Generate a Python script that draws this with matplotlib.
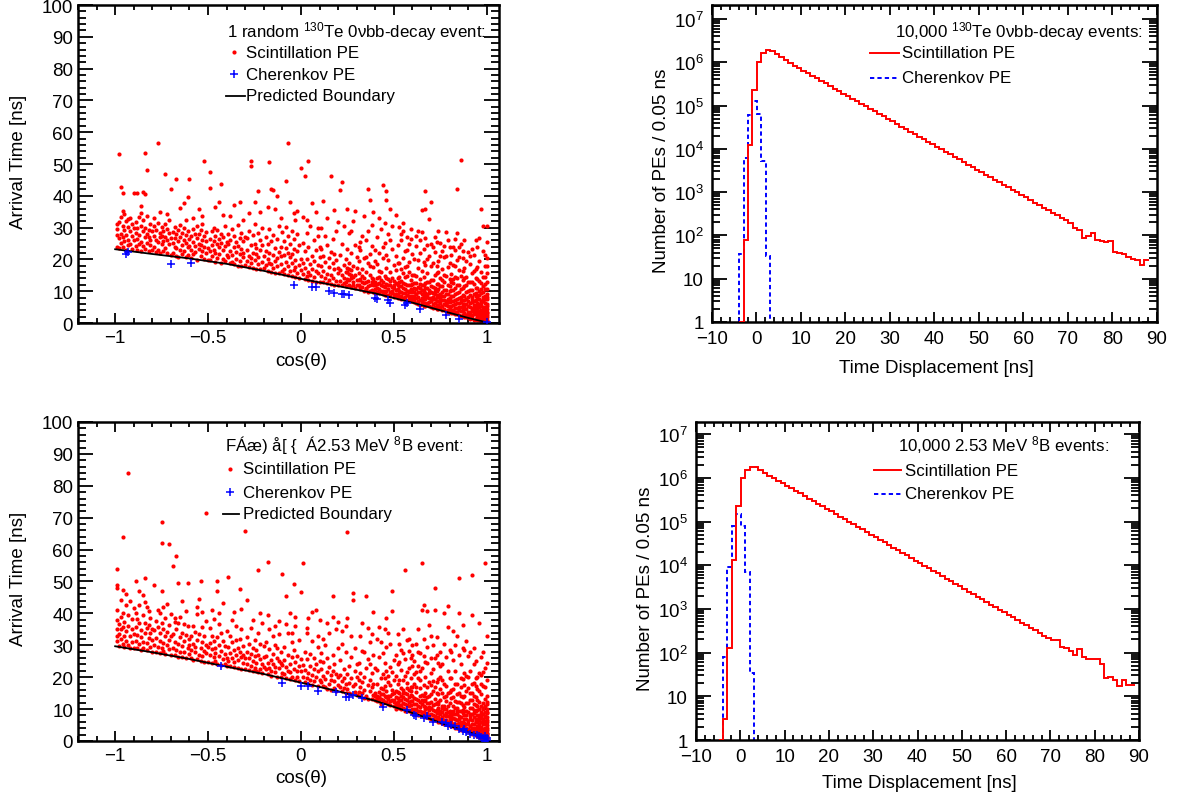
import numpy as np
import matplotlib
matplotlib.use("Agg")
import matplotlib.pyplot as plt
from matplotlib.ticker import MultipleLocator, LogLocator, NullFormatter, FuncFormatter

plt.rcParams['font.family'] = ['Liberation Sans', 'DejaVu Sans']
plt.rcParams['mathtext.fontset'] = 'custom'
plt.rcParams['mathtext.rm'] = 'Liberation Sans'
plt.rcParams['mathtext.it'] = 'Liberation Sans:italic'

# -----------------------------
# Data: single-event hit maps, "cos(theta)*100:time[ns]"
# -----------------------------
te_scint_pts = """
-99:29.5 -99:24.0 -98:31.8 -98:26.7 -98:23.6 -97:33.4 -97:28.1 -97:25.2 -96:30.6 -96:27.0 -96:23.8 -95:34.2
-95:29.3 -95:25.9 -94:32.0 -94:27.6 -94:22.9 -93:30.1 -93:26.2 -93:24.5 -92:33.0 -92:28.8 -92:25.0 -91:31.2
-91:27.3 -91:23.4 -90:29.9 -90:26.1 -99:27.8 -96:35.1 -93:32.6 -98:53.0 -97:42.7 -96:41.0 -99:31.0
-89:28.4 -89:24.3 -89:31.7 -88:26.5 -88:22.9 -88:29.9 -87:33.2 -87:27.7 -87:24.8 -86:30.5 -86:25.6 -86:22.6
-85:28.9 -85:32.4 -85:24.1 -84:26.9 -84:30.0 -84:23.2 -83:28.1 -83:33.6 -83:25.3 -82:29.4 -82:22.5 -82:27.0
-81:31.0 -81:24.6 -81:26.2 -80:29.0 -80:23.0 -86:34.5 -84:40.5 -84:53.5 -83:48.0 -85:41.2 -88:41.0 -90:41.0 -86:36.8
-79:27.5 -79:24.0 -79:30.4 -78:26.1 -78:22.3 -78:29.2 -77:31.6 -77:25.4 -77:23.0 -76:28.3 -76:26.9 -76:21.9
-75:30.2 -75:24.7 -75:27.4 -74:22.5 -74:28.9 -74:25.8 -73:31.1 -73:23.6 -73:27.0 -72:26.0 -72:29.7 -72:22.0
-71:24.9 -71:28.2 -71:32.4 -70:21.5 -70:26.6 -77:56.7 -73:47.0 -70:42.0 -76:35.0 -72:34.2 -79:33.0
-69:25.3 -69:28.7 -69:22.1 -68:30.1 -68:24.0 -68:26.8 -67:21.2 -67:27.9 -67:23.5 -66:29.4 -66:25.9 -66:20.8
-65:23.0 -65:27.2 -65:30.8 -64:24.6 -64:21.6 -64:28.3 -63:26.0 -63:22.7 -63:30.0 -62:25.1 -62:20.9 -62:27.6
-61:23.9 -61:29.0 -61:21.4 -60:26.4 -60:24.2 -67:45.3 -60:45.3 -63:37.8 -61:39.6 -65:36.2 -62:32.5
-59:23.0 -59:27.3 -59:20.5 -58:25.6 -58:29.6 -58:21.8 -57:24.1 -57:28.0 -57:22.4 -56:26.7 -56:19.9 -56:30.4
-55:23.3 -55:25.0 -55:27.9 -54:21.0 -54:24.6 -54:29.1 -53:22.6 -53:26.2 -53:31.0 -52:20.2 -52:24.0 -52:27.5
-51:22.0 -51:25.7 -51:28.6 -50:19.8 -50:23.6 -52:51.0 -55:35.8 -58:33.0 -53:33.8
-49:22.5 -49:26.3 -49:19.7 -48:24.4 -48:28.8 -48:21.0 -47:23.1 -47:30.0 -47:25.8 -46:19.2 -46:27.4 -46:22.0
-45:24.9 -45:20.4 -45:29.3 -44:26.5 -44:21.7 -44:23.8 -43:19.0 -43:25.2 -43:28.1 -42:22.8 -42:20.0 -42:26.9
-41:24.1 -41:19.5 -41:30.6 -40:21.3 -40:25.5 -49:47.6 -49:42.4 -43:43.8 -46:36.5 -42:34.0 -44:38.0
-39:20.6 -39:24.8 -39:28.0 -38:18.9 -38:22.7 -38:26.1 -37:21.5 -37:29.6 -37:19.3 -36:23.9 -36:27.3 -36:18.5
-35:25.4 -35:20.1 -35:22.2 -34:18.0 -34:24.3 -34:30.8 -33:26.7 -33:19.6 -33:21.8 -32:23.2 -32:28.4 -32:17.9
-31:20.7 -31:25.9 -31:22.0 -30:18.3 -30:27.1 -36:37.0 -33:38.0 -38:33.5 -31:32.5
-29:19.4 -29:23.0 -29:26.8 -28:17.6 -28:21.2 -28:29.0 -27:24.5 -27:18.8 -27:20.3 -26:27.6 -26:22.1 -26:17.2
-25:25.0 -25:19.9 -25:31.2 -24:21.6 -24:17.0 -24:23.7 -23:28.2 -23:18.4 -23:20.8 -22:26.0 -22:16.9 -22:22.9
-21:19.1 -21:24.4 -21:30.0 -20:17.4 -20:21.0 -27:50.8 -27:49.5 -23:41.5 -22:35.0 -28:34.6 -25:38.2
-19:18.2 -19:22.6 -19:27.0 -18:16.5 -18:20.1 -18:24.8 -17:19.0 -17:29.5 -17:22.0 -16:16.0 -16:25.7 -16:18.7
-15:21.4 -15:27.8 -15:17.3 -14:23.5 -14:19.6 -14:15.8 -13:26.3 -13:20.5 -13:17.8 -12:22.2 -12:30.4 -12:15.6
-11:18.4 -11:24.0 -11:21.0 -10:16.3 -10:28.6 -17:50.6 -16:42.0 -15:41.8 -13:40.0 -11:33.0 -18:36.5 -14:36.0
-9:17.0 -9:21.5 -9:25.8 -9:15.4 -8:19.3 -8:23.7 -8:30.2 -7:15.0 -7:18.0 -7:27.4 -7:22.0 -6:16.2
-6:20.6 -6:24.9 -5:14.8 -5:18.9 -5:29.0 -5:21.8 -4:16.8 -4:23.2 -4:26.5 -3:14.5 -3:19.7 -3:17.5
-2:22.6 -2:15.7 -2:28.0 -1:18.3 -1:14.2 -1:24.4 0:16.6 0:20.2 -7:56.7 -8:44.8 -6:38.0 -4:34.6 -3:32.5 0:48.8 -2:35.2
1:15.3 1:19.0 1:25.2 2:13.8 2:17.4 2:22.5 3:14.9 3:28.3 3:20.0 4:16.1 4:13.5 4:23.8
5:18.6 5:15.0 5:30.5 6:21.2 6:13.2 6:17.0 7:26.0 7:14.4 7:19.6 8:16.5 8:22.9 8:13.0
9:18.2 9:27.3 9:15.6 10:20.8 10:12.9 10:24.0 2:46.2 4:50.9 3:32.4 6:37.8 8:35.0 9:29.9 1:33.4
11:14.7 11:18.0 11:23.4 12:12.9 12:16.2 12:21.0 13:14.0 13:27.5 13:19.3 14:15.5 14:12.5 14:24.6
15:17.7 15:13.6 15:20.5 16:22.3 16:15.0 16:12.2 17:18.8 17:26.4 17:14.1 18:16.9 18:21.6 18:12.0
19:13.3 19:19.8 19:29.0 20:15.8 20:11.9 20:17.2 12:38.3 16:46.2 18:35.5 14:33.0 20:31.8 11:30.0
21:13.2 21:16.8 21:21.4 22:11.8 22:15.1 22:25.0 23:12.6 23:18.3 23:14.2 24:20.0 24:11.5 24:16.0
25:13.8 25:23.2 25:17.4 26:12.0 26:15.5 26:19.0 26:28.4 27:11.2 27:14.0 27:21.9 27:16.6 28:13.0
28:18.0 28:12.1 29:15.0 29:24.5 29:11.0 30:17.3 30:13.6 30:20.6 24:12.8 22:44.3 21:41.8 25:36.0
28:32.0 27:29.0 23:30.5 29:35.2 26:13.5 27:15.2 28:14.6 25:16.0 26:17.0
31:12.0 31:15.7 31:19.5 32:10.6 32:13.9 32:22.8 33:11.4 33:17.0 33:14.8 34:10.2 34:20.3 34:12.6
35:16.1 35:26.0 35:11.0 36:13.2 36:18.8 36:9.9 37:15.0 37:21.7 37:12.0 38:10.4 38:14.2 38:24.3
39:17.5 39:9.6 39:11.8 40:13.0 40:19.4 40:9.5 33:27.4 36:29.0 38:30.8 34:33.8 37:38.7 36:42.2
39:35.0 32:25.6 40:23.0 35:20.8 31:24.0 37:18.0
41:11.0 41:14.3 41:18.6 42:9.5 42:12.7 42:22.0 43:10.1 43:15.9 43:13.4 44:9.0 44:20.4 44:11.6
45:14.7 45:25.3 45:9.8 46:12.3 46:17.2 46:8.7 47:10.6 47:19.9 47:13.8 48:8.5 48:11.9 48:16.0
49:9.3 49:14.0 49:23.4 50:8.1 50:10.9 50:18.1 41:27.0 43:29.7 45:31.5 47:28.0 49:30.5 42:33.0
44:43.5 46:41.4 46:38.8 48:36.0 44:24.0 46:21.5 48:26.2 50:13.2 42:16.5 44:13.0 47:8.9 49:11.4
51:9.0 51:12.5 51:16.8 51:21.0 52:7.8 52:10.6 52:14.1 52:24.5 53:8.4 53:11.7 53:18.9 54:7.5
54:13.3 54:9.9 54:28.0 55:15.6 55:8.0 55:11.0 55:20.3 56:7.2 56:12.4 56:17.5 56:9.4 57:10.2
57:14.7 57:23.0 57:7.0 58:8.6 58:12.0 58:19.2 58:16.0 59:6.8 59:10.8 59:13.6 59:26.5 60:7.9
60:9.7 60:15.0 60:21.8 53:30.3 55:29.0 57:27.2 59:29.6 54:26.0 56:22.5 58:24.8 52:19.0 55:31.5
51:34.0 53:12.8 56:14.5 58:10.1 60:12.3 54:17.0 57:18.0
61:7.5 61:10.9 61:15.2 61:20.0 62:6.2 62:9.0 62:12.7 62:24.1 63:6.8 63:11.3 63:17.3 63:8.1
64:5.8 64:13.9 64:9.6 64:22.0 65:7.0 65:11.9 65:16.5 65:6.0 66:8.6 66:14.4 66:19.1 66:10.2
67:5.5 67:7.7 67:12.6 67:26.8 68:9.2 68:6.4 68:15.8 68:11.1 69:5.2 69:8.0 69:13.0 69:21.2
70:6.9 70:9.9 70:17.9 70:5.0 62:27.5 64:26.0 66:23.4 68:24.6 70:25.0 63:29.0 65:28.5 67:41.5
70:38.2 65:35.5 67:35.8 69:32.8 61:12.5 62:14.8 63:19.8 64:11.0 65:9.0 66:6.3 67:18.2 68:20.0
69:10.5 70:13.4 61:8.5 66:12.0 68:8.2
71:6.0 71:9.4 71:13.5 71:18.8 72:4.9 72:7.6 72:11.0 72:22.3 73:5.5 73:10.1 73:15.6 73:8.2
74:4.5 74:12.2 74:6.8 74:19.5 75:5.1 75:9.0 75:14.3 75:25.2 76:7.3 76:11.7 76:4.2 76:16.9
77:6.0 77:8.5 77:20.6 77:12.9 78:3.9 78:10.3 78:14.8 78:7.0 79:5.3 79:9.1 79:17.6 79:3.6
80:6.5 80:11.6 80:8.0 80:23.9 71:24.0 73:25.5 75:21.0 77:24.2 79:26.0 72:27.0 74:29.0 76:22.6
78:21.0 80:19.0 71:11.2 72:15.0 73:12.4 74:8.9 75:7.2 76:9.6 77:15.0 78:5.8 79:12.0 80:13.9
71:7.7 73:17.8 75:11.5 77:10.5 79:7.5 76:13.6 78:28.7 74:16.0 72:9.2 80:4.1
81:4.0 81:6.8 81:10.3 81:15.5 81:21.4 82:3.1 82:5.6 82:8.4 82:12.6 82:18.2 83:4.6 83:7.3
83:11.1 83:2.8 83:23.0 84:3.5 84:9.5 84:14.0 84:6.2 84:19.8 85:2.4 85:5.0 85:7.9 85:12.0
85:16.6 86:3.9 86:10.6 86:6.6 86:25.0 86:2.2 87:4.8 87:8.8 87:13.4 87:20.5 88:2.0 88:6.0
88:11.5 88:3.3 88:17.4 89:4.4 89:7.4 89:9.9 89:14.6 90:1.8 90:5.3 90:12.8 90:22.4 90:8.1
81:12.8 82:10.5 83:14.5 84:11.8 85:9.6 86:14.8 87:6.0 88:8.6 89:12.1 90:3.5 81:8.5 82:13.9
83:9.2 84:4.8 85:20.6 86:8.3 87:11.0 88:14.0 89:2.5 90:10.0 84:42.0 86:51.4 83:26.5 85:24.0
87:22.6 89:19.5 82:23.8 88:26.0 84:28.3 87:16.4 83:17.9
91:2.4 91:5.1 91:8.7 91:13.0 91:18.6 92:1.5 92:3.9 92:6.5 92:10.4 92:15.8 93:2.9 93:5.8
93:9.0 93:12.2 93:21.5 94:1.2 94:4.2 94:7.1 94:11.0 94:16.9 95:2.0 95:3.4 95:6.2 95:8.5
95:13.8 95:24.0 96:0.9 96:2.7 96:4.9 96:7.7 96:10.1 96:19.4 97:1.6 97:3.1 97:5.5 97:9.4
97:12.7 97:15.9 98:0.7 98:2.2 98:4.0 98:6.9 98:8.2 98:11.5 98:22.7 99:0.5 99:1.8 99:3.6
99:5.0 99:7.4 99:10.7 99:14.4 99:17.8 100:0.3 100:1.1 100:2.6 100:4.4 100:6.0 100:9.1 100:12.9
100:20.3 100:25.5 91:10.5 92:12.8 93:3.8 94:9.4 95:11.0 96:13.3 97:7.0 98:14.6 99:12.3 100:7.6
92:8.2 94:14.2 96:6.0 98:9.7 100:15.8 97:2.2 99:6.2 95:17.5 93:16.2 91:21.0 99:21.5 97:35.7
98:30.5 96:26.8 94:26.0 92:23.4 100:18.0 99:2.8 98:1.3 100:3.5 97:0.8 96:3.8 100:30.6
30:11.8 31:13.4 32:11.2 33:12.9 34:14.0 35:10.8 35:13.0 36:11.5 37:10.2 38:12.8 39:13.9 40:10.8 40:11.9
41:9.9 41:12.2 42:10.8 42:14.5 43:11.8 44:10.2 45:11.3 45:8.9 46:10.0 46:14.1 47:12.0 48:9.6 48:13.3
49:10.2 50:9.0 50:12.0 51:10.4 51:8.5 52:12.0 52:9.2 53:10.0 53:14.4 54:8.6 54:11.5 55:9.3 55:12.7
56:8.2 56:10.8 57:8.8 57:12.1 58:7.4 58:9.8 59:8.4 59:11.9 60:10.5 60:6.8
61:6.6 61:9.6 62:7.8 62:10.6 63:9.8 63:5.9 64:7.3 64:12.2 65:8.0 65:10.5 66:5.4 66:7.5 67:9.5
67:11.0 68:5.6 68:13.0 69:6.7 69:9.4 70:8.0 70:11.5
71:4.6 71:8.3 72:6.2 72:10.0 73:4.3 73:6.9 74:5.6 74:10.6 75:6.3 75:8.1 76:5.2 76:8.5 77:4.4
77:7.2 78:6.1 78:9.1 79:4.2 79:6.7 80:5.0 80:10.0
81:3.2 81:5.2 82:4.1 82:6.9 83:3.6 83:5.9 84:2.9 84:7.6 85:4.1 85:6.3 86:5.0 86:7.4 87:2.6
87:3.9 88:4.9 88:7.3 89:1.9 89:5.9 90:2.7 90:6.8
91:1.4 91:3.6 91:6.4 92:2.5 92:4.8 92:7.4 93:1.1 93:4.6 93:7.0 94:2.7 94:5.4 94:8.6 95:1.0
95:4.4 95:7.4 96:1.8 96:3.3 96:5.6 96:8.9 97:0.5 97:4.0 97:6.3 97:10.8 98:1.6 98:3.3 98:5.0
98:7.6 99:0.8 99:2.4 99:4.3 99:8.5 100:0.6 100:1.8 100:3.1 100:5.2 100:8.2 100:10.6
"""

te_cher_pts = """
-94:21.8 -93:22.2 -70:18.4 -59:18.8 -4:12.1 6:11.3 8:11.3 15:10.2 18:9.4 22:9.0 23:9.2 26:8.9
40:7.8 41:7.4 47:7.1 48:6.4 56:5.8 57:6.2 64:4.5 78:2.6 85:1.4 100:0.3
"""

te_bound_x = [-1.0, -0.8, -0.6, -0.4, -0.2, 0.0, 0.2, 0.4, 0.6, 0.7, 0.8, 0.9, 1.0]
te_bound_y = [23.2, 21.7, 20.3, 18.6, 16.4, 13.9, 11.6, 9.3, 6.4, 4.8, 3.2, 1.6, 0.2]

b8_scint_pts = """
-99:35.0 -99:31.2 -99:41.0 -99:37.8 -98:33.4 -98:29.9 -98:36.6 -97:44.3 -97:32.0 -97:38.9 -96:30.5 -96:35.7
-96:40.2 -95:33.0 -95:29.4 -95:37.2 -94:31.5 -94:42.5 -94:34.6 -93:36.0 -93:30.0 -93:39.5 -92:32.8 -92:29.2
-92:44.0 -91:35.2 -91:38.3 -91:31.0 -90:33.6 -90:29.0 -90:41.7 -99:33.0 -97:35.0
-93:83.9 -96:63.9 -99:53.9 -99:49.0 -99:48.0 -96:47.4 -94:46.0
-89:31.3 -89:35.8 -89:40.0 -88:29.0 -88:33.2 -88:38.1 -87:30.4 -87:36.9 -87:42.6 -86:28.5 -86:32.5 -86:34.8
-85:39.4 -85:31.0 -85:29.3 -84:37.0 -84:33.9 -84:43.5 -83:28.4 -83:35.5 -83:30.7 -82:32.2 -82:40.8 -82:36.3
-81:29.6 -81:34.0 -81:38.5 -80:28.0 -80:31.8 -80:35.1 -89:50.1 -84:51.1 -85:45.8 -87:47.0 -83:42.0
-79:30.2 -79:34.7 -79:48.8 -78:28.0 -78:32.4 -78:37.6 -77:29.5 -77:35.8 -77:41.0 -76:27.6 -76:31.3 -76:33.8
-75:29.0 -75:37.0 -75:46.9 -74:30.8 -74:28.2 -74:35.0 -73:32.9 -73:38.7 -73:27.3 -72:30.0 -72:34.3 -72:43.0
-71:28.8 -71:31.7 -71:36.4 -70:27.0 -70:33.0 -70:39.8 -75:68.7 -75:62.1 -71:61.6 -76:40.0 -74:42.0
-69:29.2 -69:33.5 -69:54.8 -68:27.1 -68:31.0 -68:37.4 -67:28.6 -67:35.2 -67:58.1 -66:26.4 -66:30.3 -66:49.5
-65:32.6 -65:27.8 -65:39.0 -64:29.9 -64:34.0 -64:26.2 -63:31.4 -63:36.8 -63:28.0 -62:26.0 -62:33.1 -62:40.6
-61:29.0 -61:35.9 -61:49.5 -60:27.3 -60:31.9 -60:30.0 -68:38.5 -66:37.0 -64:44.0
-59:28.5 -59:32.8 -59:26.0 -58:30.4 -58:36.0 -58:25.4 -57:27.9 -57:34.2 -57:29.6 -56:25.6 -56:31.7 -56:39.8
-55:27.0 -55:33.5 -55:44.5 -54:29.0 -54:25.0 -54:50.3 -53:31.0 -53:35.7 -53:26.6 -52:28.3 -52:33.0 -52:24.9
-51:30.2 -51:37.5 -51:27.5 -50:24.7 -50:29.4 -51:71.5 -56:42.0 -53:40.5
-49:27.0 -49:30.8 -49:35.4 -48:24.5 -48:28.9 -48:33.0 -47:26.3 -47:31.5 -47:38.2 -46:25.0 -46:29.2 -46:27.7
-45:32.5 -45:24.2 -45:50.1 -45:46.9 -44:26.8 -44:30.0 -44:36.6 -43:23.9 -43:28.1 -43:33.8 -42:25.7 -42:31.2
-42:43.4 -41:27.4 -41:24.0 -41:29.8 -40:26.0 -40:34.5 -40:23.6 -48:41.0 -44:40.0
-39:25.2 -39:29.4 -39:51.3 -38:23.6 -38:27.5 -38:33.0 -37:26.0 -37:30.9 -37:38.0 -36:23.2 -36:28.4 -36:24.8
-35:31.6 -35:26.9 -35:36.0 -34:23.0 -34:29.0 -34:25.5 -33:27.8 -33:47.6 -33:32.1 -32:22.6 -32:26.4 -32:35.0
-31:24.3 -31:29.9 -31:27.0 -30:22.5 -30:25.9 -30:65.8 -29:44.3 -36:40.5 -32:41.5
-29:24.2 -29:28.0 -29:32.6 -28:22.4 -28:26.1 -28:30.4 -27:23.6 -27:35.5 -27:27.4 -26:21.9 -26:25.0 -26:29.2
-25:23.0 -25:31.8 -25:26.8 -24:22.0 -24:28.6 -24:24.4 -23:33.7 -23:21.5 -23:27.1 -22:25.6 -22:30.3 -22:22.7
-21:24.0 -21:36.9 -21:21.2 -20:26.4 -20:23.3 -20:29.7 -23:53.7 -26:38.0 -22:40.0
-19:22.6 -19:26.8 -19:31.0 -18:21.0 -18:24.3 -18:56.1 -17:23.0 -17:28.7 -17:35.0 -16:20.5 -16:25.5 -16:22.0
-15:27.2 -15:33.0 -15:24.0 -14:21.6 -14:30.2 -14:23.3 -13:26.0 -13:20.2 -13:29.0 -12:22.8 -12:25.1 -12:37.5
-11:20.0 -11:24.6 -11:27.9 -10:21.4 -10:23.9 -10:52.4 -18:39.6 -14:36.0 -12:33.4
-9:21.0 -9:25.3 -9:29.5 -8:19.8 -8:23.1 -8:45.3 -7:22.0 -7:27.0 -7:33.8 -6:19.4 -6:24.0 -6:21.5
-5:26.2 -5:30.9 -5:20.2 -4:22.7 -4:28.4 -4:49.2 -3:19.0 -3:24.9 -3:36.2 -2:21.8 -2:26.7 -2:20.1
-1:23.4 -1:18.8 -1:31.6 0:22.0 0:46.6 0:25.7 -6:40.0 -3:39.0 -8:36.6 -5:34.0
1:20.0 1:23.8 1:55.8 2:18.5 2:22.1 2:28.0 3:19.6 3:25.6 3:34.0 4:17.9 4:21.2 4:38.6
5:23.5 5:27.3 5:19.0 6:20.6 6:31.2 6:17.6 7:22.6 7:26.0 7:18.8 8:24.2 8:20.0 8:41.0
9:17.3 9:21.9 9:29.4 10:19.2 10:25.0 10:37.8 3:35.5 6:40.3 9:33.0
11:18.6 11:22.5 11:27.6 12:17.2 12:20.4 12:24.8 13:16.8 13:30.1 13:19.5 14:21.7 14:16.3 14:25.9
15:18.0 15:23.3 15:33.7 16:16.0 16:20.8 16:19.0 17:22.0 17:27.0 17:45.5 18:16.5 18:18.8 18:24.1
19:21.0 19:35.0 19:15.8 20:17.6 20:20.2 20:29.0 14:37.0 17:39.0 20:37.3 12:32.0
21:17.0 21:20.6 21:25.4 22:15.6 22:18.9 22:30.3 23:16.7 23:22.7 23:19.8 24:15.1 24:17.9 24:27.8
25:21.0 25:16.2 25:65.5 26:18.3 26:23.5 26:15.0 27:19.6 27:26.4 27:14.8 28:17.1 28:46.4 28:44.3
29:21.8 29:15.4 29:18.0 30:14.3 30:24.0 30:20.0 22:34.6 24:36.0 27:33.0 29:29.0 25:38.7
31:15.5 31:19.2 31:24.6 32:14.0 32:17.0 32:21.4 33:15.0 33:28.2 33:18.5 34:13.6 34:20.0 34:16.1
35:22.8 35:14.2 35:45.5 36:17.6 36:13.3 36:25.7 37:19.0 37:15.6 37:30.9 38:13.1 38:21.2 38:16.8
39:14.5 39:18.0 39:26.9 40:12.8 40:23.0 40:15.2 33:37.0 36:35.4 39:40.5 32:33.0 38:33.5 34:28.0 37:24.0
41:14.0 41:17.8 41:22.3 42:12.5 42:15.4 42:26.2 43:13.2 43:19.6 43:16.7 44:11.9 44:21.0 44:14.6
45:17.1 45:24.5 45:12.2 46:15.8 46:13.7 46:29.5 47:11.5 47:18.6 47:20.4 48:14.0 48:11.2 48:23.3
49:16.0 49:12.8 49:46.9 49:40.6 50:11.0 50:19.0 50:15.0 41:32.0 43:31.0 45:35.0 47:33.8 44:27.5
48:30.4 42:35.8 46:38.7 50:25.5 43:11.6 45:19.9 47:14.2 49:21.5 41:12.6 44:16.4 46:22.0 48:17.5 50:13.0
51:12.0 51:15.6 51:20.3 51:27.0 52:10.6 52:13.4 52:17.9 52:24.0 53:11.3 53:14.9 53:30.5 54:10.0
54:16.6 54:12.7 54:22.1 55:13.8 55:19.0 55:10.4 55:35.0 56:11.7 56:15.0 56:25.8 56:53.5 57:9.7
57:13.0 57:18.2 57:21.5 58:10.9 58:16.0 58:12.2 58:28.3 59:9.3 59:14.3 59:19.8 59:11.4 60:8.9
60:12.6 60:17.0 60:23.6 52:33.5 55:27.6 57:31.8 59:26.0 53:19.2 54:28.6 56:20.5 58:22.9 60:30.0
51:9.9 53:24.8 55:16.0 57:14.6 59:17.0 56:9.4 58:32.0 60:27.0
61:10.0 61:13.5 61:18.0 61:25.2 62:8.7 62:11.6 62:15.4 62:21.7 63:9.4 63:13.0 63:19.6 63:28.0
64:8.2 64:10.7 64:16.5 64:12.3 65:9.0 65:14.4 65:22.8 65:41.0 66:7.8 66:11.0 66:17.7 66:26.5
67:8.6 67:12.8 67:15.0 67:20.2 68:7.4 68:10.2 68:13.9 68:24.3 69:8.0 69:9.6 69:18.5 69:11.9
70:7.0 70:14.8 70:21.3 70:10.5 62:30.5 64:27.6 66:32.0 68:29.4 70:33.0 63:35.2 65:55.8 66:42.7
68:40.6 69:36.4 61:21.0 62:17.0 63:23.5 64:19.0 65:11.7 66:14.0 67:24.9 68:16.8 69:14.0 70:17.6
61:8.9 64:22.0 67:10.0 70:26.0
71:8.0 71:11.4 71:15.8 71:22.5 72:6.6 72:9.5 72:13.3 72:48.0 72:41.2 73:7.3 73:12.0 73:18.4
73:26.9 74:6.1 74:8.8 74:14.6 74:10.5 75:7.0 75:12.7 75:20.0 75:16.2 76:5.6 76:9.2 76:24.1
76:11.0 77:6.5 77:13.9 77:40.1 77:8.1 78:5.2 78:10.0 78:17.3 78:12.4 79:6.0 79:7.7 79:21.8
79:14.9 80:4.9 80:9.4 80:11.8 80:28.5 71:30.0 73:32.6 75:28.0 77:30.4 79:35.6 74:24.6 76:19.0
78:26.2 80:19.9 79:42.4 71:18.8 72:17.0 73:9.8 74:19.5 75:9.4 76:15.0 77:18.0 78:7.8 79:11.0
80:15.4 72:26.0 74:12.3 76:7.4 78:14.2 80:7.0 77:10.9 75:23.6 73:15.2
81:5.8 81:9.0 81:13.4 81:19.6 82:4.6 82:7.2 82:11.0 82:16.2 82:25.4 83:5.2 83:8.4 83:12.6
83:22.0 84:4.1 84:6.5 84:10.2 84:14.7 84:18.0 85:3.8 85:7.8 85:9.5 85:51.1 85:40.1 86:4.9
86:12.0 86:16.9 86:6.0 87:3.4 87:8.9 87:13.7 87:36.4 88:4.3 88:5.6 88:10.8 88:21.2 89:3.1
89:7.0 89:11.9 89:15.8 90:3.0 90:6.3 90:9.2 90:26.7 81:28.0 83:30.0 85:27.0 87:29.3 89:31.5
84:33.0 86:24.0 88:28.4 90:20.0 82:34.6 81:7.5 82:13.8 83:17.8 84:8.5 85:12.3 86:9.3 87:6.1
88:14.0 89:9.4 90:12.0 81:16.0 83:10.4 85:15.0 87:19.5 89:5.2 82:9.3 84:12.1 86:14.2 88:8.0
90:16.6 83:6.8 85:5.6 87:11.2 89:20.4 86:19.8 88:17.5
91:3.6 91:6.9 91:10.4 91:15.2 91:22.0 92:2.8 92:5.3 92:8.5 92:12.7 92:52.1 92:39.6 93:4.2
93:7.6 93:11.5 93:18.3 93:29.0 94:2.4 94:5.9 94:9.3 94:13.8 94:25.2 95:3.2 95:4.8 95:8.0
95:10.9 95:16.4 96:1.9 96:3.9 96:6.7 96:9.9 96:12.3 96:37.0 97:1.5 97:4.5 97:7.3 97:11.0
97:14.8 97:20.8 98:1.2 98:3.0 98:5.4 98:8.6 98:12.0 98:17.1 99:0.9 99:2.2 99:4.0 99:6.2
99:9.0 99:13.1 99:55.8 100:0.8 100:1.7 100:3.3 100:5.0 100:7.4 100:10.1 100:14.0 100:32.8 91:28.0
93:24.0 95:20.0 97:26.3 99:23.0 92:18.0 94:17.3 96:15.8 98:21.5 100:19.0 91:12.8 92:10.2 93:14.1
94:7.0 95:13.0 96:5.2 97:9.0 98:10.3 99:11.0 100:8.8 92:15.1 94:11.4 96:8.2 98:6.8 100:12.3
93:9.6 95:6.4 97:2.6 99:7.6 100:2.4 96:21.4 98:28.0 99:17.0 97:17.9 100:24.5 94:19.9 91:8.4
93:2.6 95:2.0 98:1.9 99:3.2 100:6.0
40:14.0 41:13.2 42:13.9 43:14.8 44:13.0 45:14.0 46:12.2 47:13.1 48:12.5 49:14.6 50:12.2
51:11.0 51:13.7 52:12.2 52:15.5 53:10.2 53:12.8 54:11.4 54:14.1 55:11.9 55:15.2 56:10.0 56:13.2
57:11.3 57:16.5 58:9.5 58:13.8 59:12.6 59:15.8 60:10.0 60:14.1
61:9.0 61:11.6 62:10.1 62:13.2 63:8.3 63:11.0 64:9.5 64:14.2 65:8.0 65:12.8 66:9.2 66:12.6
67:7.6 67:10.6 68:8.7 68:12.0 69:7.2 69:10.8 70:8.5 70:12.3
71:6.8 71:9.6 72:7.9 72:11.5 73:6.5 73:8.8 74:7.4 74:11.6 75:5.9 75:8.4 76:6.9 76:10.3
77:5.4 77:9.9 78:6.5 78:8.9 79:4.9 79:9.1 80:6.1 80:8.2
81:4.6 81:6.9 82:5.4 82:8.4 83:4.0 83:7.0 84:5.3 84:9.3 85:4.6 85:6.8 86:3.6 86:7.6
87:4.5 87:9.8 88:3.4 88:6.9 89:4.1 89:8.2 90:3.8 90:5.4
91:2.6 91:4.8 91:7.8 92:2.1 92:4.0 92:6.6 93:3.1 93:5.2 93:8.8 94:1.8 94:3.7 94:6.3
95:1.6 95:3.8 95:5.9 95:9.6 96:1.1 96:2.8 96:4.6 96:7.5 97:0.9 97:3.4 97:5.8 97:8.1
98:2.1 98:3.9 98:6.1 98:10.0 99:1.2 99:2.8 99:5.2 99:7.8 100:1.2 100:2.2 100:4.2 100:6.6
100:9.2 100:11.5
"""

b8_cher_pts = """
-43:23.4 -10:18.3 0:17.1 4:17.1 9:15.8 19:15.5 24:13.9 26:13.7 28:14.4 33:13.4 44:10.8 57:9.7
61:8.2 62:7.9 66:7.1 68:7.9 71:6.1 78:5.5 79:4.7 81:5.0 83:4.7 85:3.7 88:3.7 89:2.9
91:2.2 93:1.9 96:1.6 98:0.8 99:0.0 99:1.6 100:0.3 100:0.8 97:1.2 95:2.0 87:3.2 76:5.8
"""

b8_bound_x = [-1.0, -0.8, -0.6, -0.4, -0.2, 0.0, 0.2, 0.4, 0.6, 0.7, 0.8, 0.9, 1.0]
b8_bound_y = [29.7, 27.8, 25.7, 23.3, 21.0, 18.3, 15.6, 12.6, 8.8, 6.8, 4.7, 2.9, 0.8]

# -----------------------------
# Data: summed time histograms (1 ns steps)
# -----------------------------
te_scint_start = -3.9
te_scint_counts = [1, 80, 1.2e4, 2.3e5, 1.0e6, 1.6e6, 1.9e6, 1.82e6,
                   1.58e6, 1.32e6, 1.12e6, 9.7e5, 8.3e5, 7.2e5,
                   6.32e5, 5.53e5, 4.83e5, 4.23e5, 3.69e5, 3.23e5, 2.82e5, 2.47e5, 2.15e5, 1.88e5,
                   1.64e5, 1.44e5, 1.26e5, 1.10e5, 9.6e4, 8.4e4, 7.3e4, 6.4e4, 5.6e4, 4.9e4,
                   4.28e4, 3.74e4, 3.27e4, 2.86e4, 2.49e4, 2.18e4, 1.91e4, 1.67e4, 1.46e4, 1.27e4,
                   1.11e4, 9.7e3, 8.5e3, 7.4e3, 6.5e3, 5.7e3, 4.96e3, 4.34e3, 3.79e3, 3.31e3,
                   2.89e3, 2.53e3, 2.21e3, 1.93e3, 1.69e3, 1.48e3, 1.29e3, 1.13e3, 985, 861,
                   752, 657, 574, 502, 439, 384, 335, 293, 256, 224, 196,
                   150, 130, 88, 95, 113, 78, 76, 70, 73, 42, 39, 38, 32, 28, 27, 21, 27]
te_cher_start = -3.9
te_cher_counts = [38, 6000, 5.9e4, 1.3e5, 6.4e4, 5200, 33]

b8_scint_start = -4.9
b8_scint_counts = [1, 3, 125, 1.3e4, 2.3e5, 9.7e5, 1.5e6, 1.8e6, 1.8e6,
                   1.55e6, 1.32e6, 1.12e6, 9.8e5, 8.5e5, 7.6e5,
                   6.67e5, 5.82e5, 5.08e5, 4.43e5, 3.86e5, 3.37e5, 2.94e5, 2.57e5, 2.24e5, 1.95e5,
                   1.71e5, 1.49e5, 1.30e5, 1.13e5, 9.9e4, 8.6e4, 7.5e4, 6.6e4, 5.7e4, 5.0e4,
                   4.36e4, 3.81e4, 3.32e4, 2.90e4, 2.53e4, 2.21e4, 1.93e4, 1.68e4, 1.47e4, 1.28e4,
                   1.12e4, 9.7e3, 8.5e3, 7.4e3, 6.5e3, 5.6e3, 4.93e3, 4.30e3, 3.75e3, 3.27e3,
                   2.86e3, 2.49e3, 2.18e3, 1.90e3, 1.66e3, 1.45e3, 1.26e3, 1.10e3, 960, 838,
                   731, 638, 557, 486, 424, 370, 323, 282, 245, 214,
                   195, 190, 135, 128, 110, 88, 120, 78, 72, 71, 70, 55, 26, 28, 24, 17, 24, 18, 18]
b8_cher_start = -3.9
b8_cher_counts = [78, 9300, 7.8e4, 1.5e5, 8.0e4, 7100, 35]


def parse_pts(s):
    a = np.array([tok.split(':') for tok in s.split()], dtype=float)
    return a[:, 0] / 100.0, a[:, 1]


def pm(v, p):
    return f"{v:g}".replace('-', '\u2212')


def logfmt(v, p):
    k = int(round(np.log10(v)))
    if k == 0:
        return '1'
    if k == 1:
        return '10'
    return f'$10^{{{k}}}$'


LBL = 13.5
LEG = 12.2
RED = '#ff0000'
BLUE = '#0000ff'
DOT_MS = 3.0
PLUS_MS = 6.2

fig = plt.figure(figsize=(11.84, 8.03), dpi=100)


def frame(ax):
    for s in ax.spines.values():
        s.set_linewidth(1.8)
    ax.tick_params(which='both', direction='in', top=True, right=True,
                   width=1.3, labelsize=LBL)


# -----------------------------
# Scatter panels
# -----------------------------
def scatter_panel(rect, scint, cher, bx, by, title, lab_y, leg):
    ax = fig.add_axes(rect)
    frame(ax)
    sx, sy = parse_pts(scint)
    cx, cy = parse_pts(cher)
    ax.plot(sx, sy, 'o', ms=DOT_MS, mew=0, color=RED, zorder=2)
    ax.plot(bx, by, '-', color='black', lw=1.3, zorder=3)
    ax.plot(cx, cy, '+', ms=PLUS_MS, mew=1.1, color=BLUE, zorder=4)
    ax.set_xlim(-1.2, 1.066)
    ax.set_ylim(0, 100)
    ax.xaxis.set_major_locator(MultipleLocator(0.5))
    ax.xaxis.set_minor_locator(MultipleLocator(0.1))
    ax.xaxis.set_major_formatter(FuncFormatter(pm))
    ax.yaxis.set_major_locator(MultipleLocator(10))
    ax.yaxis.set_minor_locator(MultipleLocator(2))
    ax.tick_params(axis='x', which='major', length=7, pad=4)
    ax.tick_params(axis='x', which='minor', length=3.5)
    ax.tick_params(axis='y', which='major', length=10.5, pad=3.5)
    ax.tick_params(axis='y', which='minor', length=5.5)
    ax.set_xlabel('cos(θ)', fontsize=LBL)
    ax.xaxis.set_label_coords(0.53, lab_y)
    ax.set_ylabel('Arrival Time [ns]', fontsize=LBL)
    ax.yaxis.set_label_coords(-0.121, 0.51)

    tx, ty, mx, lx0, lx1, txt_x, y1, y2, y3 = leg
    ax.text(tx, ty, title, transform=ax.transAxes, fontsize=LEG, ha='left', va='center')
    ax.plot([mx], [y1], 'o', ms=DOT_MS, mew=0, color=RED, transform=ax.transAxes, clip_on=False)
    ax.text(txt_x, y1, 'Scintillation PE', transform=ax.transAxes, fontsize=LEG, va='center')
    ax.plot([mx], [y2], '+', ms=PLUS_MS, mew=1.1, color=BLUE, transform=ax.transAxes, clip_on=False)
    ax.text(txt_x, y2, 'Cherenkov PE', transform=ax.transAxes, fontsize=LEG, va='center')
    ax.plot([lx0, lx1], [y3, y3], '-', color='black', lw=1.3, transform=ax.transAxes)
    ax.text(txt_x, y3, 'Predicted Boundary', transform=ax.transAxes, fontsize=LEG, va='center')
    return ax


scatter_panel([0.06588, 0.59651, 0.35557, 0.39601], te_scint_pts, te_cher_pts,
              te_bound_x, te_bound_y,
              '1 random $^{130}$Te 0νbb-decay event:', -0.091,
              (0.354, 0.921, 0.3705, 0.352, 0.397, 0.399, 0.852, 0.783, 0.714))

scatter_panel([0.06588, 0.07597, 0.35557, 0.39726], b8_scint_pts, b8_cher_pts,
              b8_bound_x, b8_bound_y,
              'FÁæ) å[ {  Á2.53 MeV $^{8}$B event:', -0.088,
              (0.349, 0.928, 0.361, 0.344, 0.382, 0.392, 0.853, 0.780, 0.712))


# -----------------------------
# Histogram panels
# -----------------------------
def hist_panel(rect, s_start, s_counts, c_start, c_counts, ytop, title, lab_y, leg):
    ax = fig.add_axes(rect)
    frame(ax)
    s_edges = s_start + np.arange(len(s_counts) + 1)
    c_edges = c_start + np.arange(len(c_counts) + 1)
    ax.stairs(s_counts, s_edges, baseline=None, color=RED, lw=1.4, zorder=3)
    ax.stairs(c_counts, c_edges, baseline=1, color=BLUE, lw=1.4,
              linestyle=(0, (2.2, 1.6)), zorder=2)
    ax.set_yscale('log')
    ax.set_xlim(-10, 90)
    ax.set_ylim(1, ytop)
    ax.xaxis.set_major_locator(MultipleLocator(10))
    ax.xaxis.set_minor_locator(MultipleLocator(2))
    ax.xaxis.set_major_formatter(FuncFormatter(pm))
    ax.yaxis.set_major_locator(LogLocator(base=10, numticks=12))
    ax.yaxis.set_minor_locator(LogLocator(base=10, subs=np.arange(2, 10), numticks=12))
    ax.yaxis.set_major_formatter(FuncFormatter(logfmt))
    ax.yaxis.set_minor_formatter(NullFormatter())
    ax.tick_params(axis='x', which='major', length=7, pad=6)
    ax.tick_params(axis='x', which='minor', length=3.5)
    ax.tick_params(axis='y', which='major', length=10.5, pad=6)
    ax.tick_params(axis='y', which='minor', length=6)

    ax.set_xlabel('Time Displacement [ns]', fontsize=LBL)
    ax.xaxis.set_label_coords(0.504, lab_y)
    ax.set_ylabel('Number of PEs / 0.05 ns', fontsize=LBL)
    ax.yaxis.set_label_coords(-0.095, 0.48)

    tx, ty, lx0, lx1, txt_x, y1, y2 = leg
    ax.text(tx, ty, title, transform=ax.transAxes, fontsize=LEG, ha='right', va='center')
    ax.plot([lx0, lx1], [y1, y1], '-', color=RED, lw=1.4, transform=ax.transAxes)
    ax.text(txt_x, y1, 'Scintillation PE', transform=ax.transAxes, fontsize=LEG, va='center')
    ax.plot([lx0, lx1], [y2, y2], color=BLUE, lw=1.4, linestyle=(0, (2.2, 1.6)),
            transform=ax.transAxes)
    ax.text(txt_x, y2, 'Cherenkov PE', transform=ax.transAxes, fontsize=LEG, va='center')
    return ax


hist_panel([0.60135, 0.59776, 0.37584, 0.39477], te_scint_start, te_scint_counts,
           te_cher_start, te_cher_counts, 2.1e7,
           '10,000 $^{130}$Te 0νbb-decay events:', -0.117,
           (0.968, 0.918, 0.354, 0.420, 0.428, 0.849, 0.770))

hist_panel([0.58784, 0.07721, 0.37416, 0.39601], b8_scint_start, b8_scint_counts,
           b8_cher_start, b8_cher_counts, 1.9e7,
           '10,000 2.53 MeV $^{8}$B events:', -0.107,
           (0.932, 0.931, 0.402, 0.462, 0.472, 0.849, 0.774))

fig.savefig('out.png', dpi=100)
